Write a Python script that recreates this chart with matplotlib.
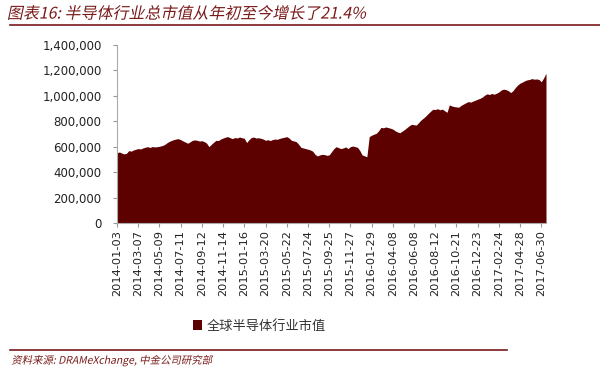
import matplotlib
matplotlib.use("Agg")
import matplotlib.pyplot as plt
import numpy as np
from matplotlib.patheffects import AbstractPathEffect
from matplotlib.transforms import Affine2D

plt.rcParams['font.family'] = ['Noto Sans CJK SC', 'DejaVu Sans']

# Weekly global semiconductor industry market cap (thousands)
values_k = [
    553, 558, 550, 543, 548, 569, 565, 574, 580, 585,
    582, 590, 596, 600, 594, 601, 598, 600, 603, 608,
    615, 628, 640, 648, 655, 660, 663, 655, 645, 636,
    627, 638, 650, 653, 650, 644, 647, 640, 628, 600,
    618, 635, 650, 648, 660, 668, 675, 679, 670, 663,
    672, 668, 676, 670, 666, 632, 655, 672, 675, 668,
    670, 666, 660, 650, 655, 648, 656, 660, 658, 665,
    670, 674, 679, 668, 650, 645, 640, 620, 595, 590,
    585, 580, 574, 565, 540, 527, 535, 540, 538, 532,
    535, 560, 585, 600, 592, 585, 590, 598, 585, 600,
    605, 600, 595, 570, 535, 528, 521, 679, 690, 698,
    705, 725, 752, 748, 755, 750, 745, 738, 725, 715,
    710, 722, 735, 750, 765, 776, 772, 770, 790, 810,
    825, 841, 860, 878, 894, 892, 898, 890, 895, 882,
    870, 928, 920, 915, 912, 910, 925, 935, 945, 954,
    950, 958, 965, 973, 980, 990, 1005, 1015, 1010, 1018,
    1012, 1020, 1030, 1045, 1052, 1048, 1040, 1025, 1040, 1065,
    1085, 1099, 1108, 1118, 1125, 1128, 1135, 1130, 1132, 1128,
    1110, 1140, 1177,
]
tick_labels = [
    "2014-01-03", "2014-03-07", "2014-05-09", "2014-07-11", "2014-09-12",
    "2014-11-14", "2015-01-16", "2015-03-20", "2015-05-22", "2015-07-24",
    "2015-09-25", "2015-11-27", "2016-01-29", "2016-04-08", "2016-06-08",
    "2016-08-12", "2016-10-21", "2016-12-23", "2017-02-24", "2017-04-28",
    "2017-06-30",
]
series_name = "全球半导体行业市值"
title = "图表16: 半导体行业总市值从年初至今增长了21.4%"
source = "资料来源: DRAMeXchange, 中金公司研究部"

values = np.array(values_k) * 1000
x = np.arange(len(values))
tick_step = 9
tick_pos = np.arange(len(tick_labels)) * tick_step

fill_color = '#5c0000'
accent = '#7a1a1a'
txt = '#222222'


class Slant(AbstractPathEffect):
    """Fake italic by shearing the glyph paths around a baseline point."""
    def __init__(self, fig, anchor, deg=12):
        super().__init__()
        self.fig = fig
        self.anchor = anchor
        self.deg = deg

    def draw_path(self, renderer, gc, tpath, affine, rgbFace=None):
        x0, y0 = self.fig.transFigure.transform(self.anchor)
        sk = Affine2D().translate(-x0, -y0).skew_deg(self.deg, 0).translate(x0, y0)
        renderer.draw_path(gc, tpath, affine + sk, rgbFace)


fig = plt.figure(figsize=(6, 3.8), dpi=100)
ax = fig.add_axes([0.195, 0.413, 0.715, 0.469])
ax.fill_between(x, 0, values, color=fill_color, linewidth=0, label=series_name)
ax.set_xlim(0, len(values) - 1)
ax.set_ylim(0, 1400000)
yt = np.arange(0, 1400001, 200000)
ax.set_yticks(yt)
ax.set_yticklabels([f"{v:,}" for v in yt], fontsize=8.5, color=txt,
                   family=['DejaVu Sans'])
ax.set_xticks(tick_pos)
ax.set_xticklabels(tick_labels, rotation=90, fontsize=8.2, color=txt,
                   family=['DejaVu Sans'])
for s in ['top', 'right']:
    ax.spines[s].set_visible(False)
ax.spines['left'].set_color('#aaaaaa')
ax.spines['bottom'].set_color('#aaaaaa')
ax.tick_params(axis='both', colors='#999999', length=3, width=0.8,
               labelcolor=txt)
ax.tick_params(axis='x', pad=2)
ax.tick_params(axis='y', pad=8)

leg = fig.legend(loc='center', bbox_to_anchor=(0.432, 0.142), frameon=False,
                 fontsize=9.5, handlelength=0.7, handleheight=0.7,
                 handletextpad=0.3)
for t in leg.get_texts():
    t.set_color('#333333')

t1 = fig.text(0.013, 0.963, title, fontsize=11.5, color=accent,
              va='center', ha='left')
t1.set_path_effects([Slant(fig, (0.013, 0.963))])
fig.add_artist(plt.Line2D([0.017, 1.0], [0.935, 0.935], color=accent,
                          linewidth=1.2))
fig.add_artist(plt.Line2D([0.017, 0.845], [0.078, 0.078], color=accent,
                          linewidth=1.2))
t2 = fig.text(0.02, 0.052, source, fontsize=7.5, color=accent,
              va='center', ha='left')
t2.set_path_effects([Slant(fig, (0.02, 0.052))])

fig.savefig('out.png', dpi=100)
